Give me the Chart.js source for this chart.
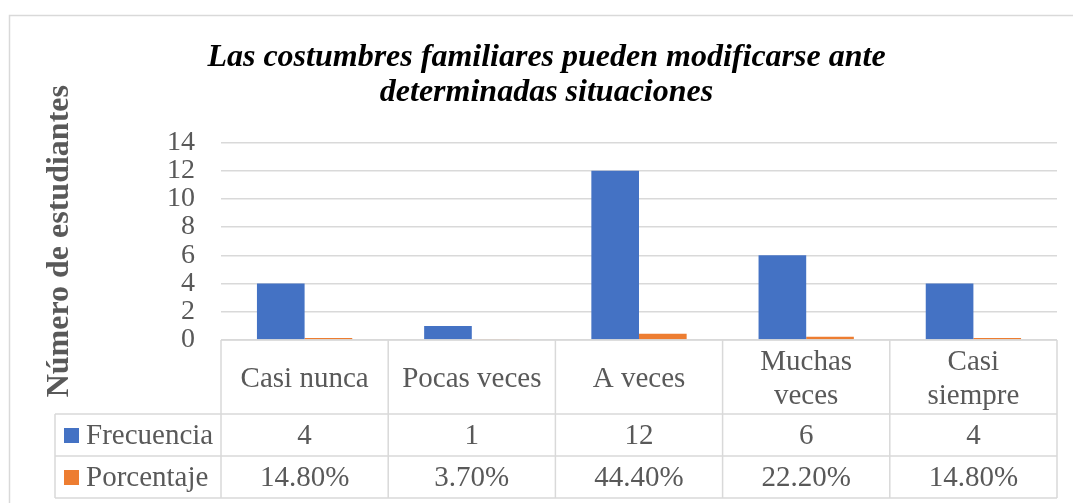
<!DOCTYPE html>
<html>
<head>
<meta charset="utf-8">
<script src="https://cdn.jsdelivr.net/npm/chart.js@4.4.0/dist/chart.umd.min.js"></script>
<style>
    html, body { margin: 0; padding: 0; background: #fff; }
</style>
</head>
<body>
<canvas id="myChart" width="1073" height="503"></canvas>
<script>
const titulo = ['Las costumbres familiares pueden modificarse ante', 'determinadas situaciones'];
const categorias = ['Casi nunca', 'Pocas veces', 'A veces', 'Muchas veces', 'Casi siempre'];
const frecuencia = [4, 1, 12, 6, 4];
const porcentaje = [0.148, 0.037, 0.444, 0.222, 0.148];
const series = ['Frecuencia', 'Porcentaje'];
const colores = ['#4472C4', '#ED7D31'];

const gris = '#595959';
const linea = '#d9d9d9';
const fuente = 'Liberation Serif, "Times New Roman", serif';

// splits a label in lines that fit in the cell
function partir(ctx, texto, ancho){
    const palabras = texto.split(' ');
    let lineas = [];
    let actual = '';
    for(let p of palabras){
        const prueba = actual ? actual + ' ' + p : p;
        if(ctx.measureText(prueba).width > ancho && actual){
            lineas.push(actual);
            actual = p;
        }else{
            actual = prueba;
        }
    }
    lineas.push(actual);
    return lineas;
}

const tablaPlugin = {
    id: 'tabla',
    afterDraw(chart){
        const ctx = chart.ctx;
        const area = chart.chartArea;
        const xs = chart.scales.x;
        const n = categorias.length;
        const cw = (area.right - area.left) / n;
        const y0 = area.bottom;
        const y1 = y0 + 74;
        const y2 = y1 + 42;
        const y3 = y2 + 42;
        const legLeft = 55;

        ctx.save();
        // chart frame
        ctx.strokeStyle = linea;
        ctx.lineWidth = 1.5;
        ctx.strokeRect(9.5, 15.5, 1200, 600);

        // table lines
        ctx.beginPath();
        ctx.moveTo(area.left, y0); ctx.lineTo(area.right, y0);
        ctx.moveTo(legLeft, y1); ctx.lineTo(area.right, y1);
        ctx.moveTo(legLeft, y2); ctx.lineTo(area.right, y2);
        ctx.moveTo(legLeft, y3); ctx.lineTo(area.right, y3);
        ctx.moveTo(legLeft, y1); ctx.lineTo(legLeft, y3);
        for(let i=0; i<=n; i++){
            const x = area.left + i * cw;
            ctx.moveTo(x, y0); ctx.lineTo(x, y3);
        }
        ctx.stroke();

        ctx.font = '29px ' + fuente;
        ctx.fillStyle = gris;
        ctx.textAlign = 'center';
        ctx.textBaseline = 'middle';
        for(let i=0; i<n; i++){
            const cx = xs.getPixelForValue(i);
            const lineas = partir(ctx, categorias[i], cw - 24);
            const lh = 34;
            const start = (y0 + y1) / 2 + 2 - (lineas.length - 1) * lh / 2;
            lineas.forEach((l, k) => ctx.fillText(l, cx, start + k * lh));
            ctx.fillText(String(frecuencia[i]), cx, (y1 + y2) / 2 + 1);
            ctx.fillText((porcentaje[i] * 100).toFixed(2) + '%', cx, (y2 + y3) / 2 + 1);
        }

        // legend keys
        ctx.textAlign = 'left';
        [[y1, y2], [y2, y3]].forEach((r, k) => {
            const cy = (r[0] + r[1]) / 2;
            ctx.fillStyle = colores[k];
            ctx.fillRect(64, cy - 7, 15, 15);
            ctx.fillStyle = gris;
            ctx.fillText(series[k], 86, cy + 1);
        });
        ctx.restore();
    }
};

const ctx = document.getElementById('myChart').getContext('2d');
new Chart(ctx, {
    type: 'bar',
    data: {
        labels: categorias,
        datasets: [
            { label: series[0], data: frecuencia, backgroundColor: colores[0] },
            { label: series[1], data: porcentaje, backgroundColor: colores[1] }
        ]
    },
    options: {
        responsive: false,
        animation: false,
        devicePixelRatio: 1,
        datasets: { bar: { categoryPercentage: 0.57, barPercentage: 1.0 } },
        layout: { padding: { left: 36, right: 16, top: 20, bottom: 163 } },
        plugins: {
            legend: { display: false },
            tooltip: { enabled: false },
            title: {
                display: true,
                text: titulo,
                color: '#000',
                font: { family: fuente, size: 32, weight: 'bold', style: 'italic', lineHeight: 1.1 },
                padding: { top: 20, bottom: 32 }
            }
        },
        scales: {
            x: { display: false },
            y: {
                min: 0, max: 14,
                afterFit(scale){ scale.width = 185; },
                border: { display: false },
                grid: { color: linea, lineWidth: 1.5, drawTicks: false },
                ticks: { stepSize: 2, autoSkip: false, padding: 26, color: gris, font: { family: fuente, size: 28, lineHeight: 1 } },
                title: {
                    display: true,
                    text: 'Número de estudiantes',
                    color: gris,
                    font: { family: fuente, size: 32, weight: 'bold' },
                    padding: { top: 5, bottom: 0 }
                }
            }
        }
    },
    plugins: [tablaPlugin]
});
</script>
</body>
</html>
